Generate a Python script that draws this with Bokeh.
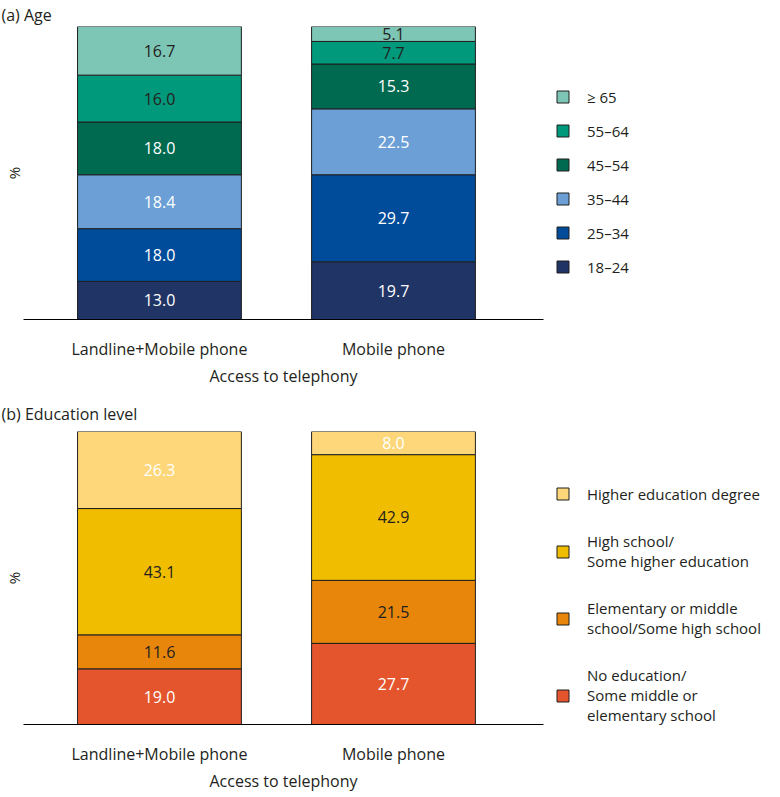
from bokeh.plotting import figure
from bokeh.models import Range1d, FixedTicker, Legend, LegendItem, ColumnDataSource
from bokeh.layouts import column
from bokeh.embed import file_html
from bokeh.resources import INLINE
from bokeh.core.properties import value

# ---------------- data ----------------
access = ["Landline+Mobile phone", "Mobile phone"]

age_groups = ["18–24", "25–34", "35–44", "45–54", "55–64", "≥ 65"]
age_landline = [13.0, 18.0, 18.4, 18.0, 16.0, 16.7]
age_mobile = [19.7, 29.7, 22.5, 15.3, 7.7, 5.1]

edu_groups = [
    "No education/\nSome middle or\nelementary school",
    "Elementary or middle\nschool/Some high school",
    "High school/\nSome higher education",
    "Higher education degree",
]
edu_landline = [19.0, 11.6, 43.1, 26.3]
edu_mobile = [27.7, 21.5, 42.9, 8.0]

# ---------------- styles ----------------
FONT = "Open Sans"
TXT = "#231f20"
age_colors = ["#213466", "#004c9a", "#6b9fd5", "#006a50", "#00997b", "#7dc5b5"]
age_text = ["white", "white", "white", "white", TXT, TXT]
edu_colors = ["#e4552e", "#e8860c", "#f1bd00", "#fdd779"]
edu_text = ["white", TXT, TXT, "white"]

FRAME_H = 293


def make_panel(title, groups, landline, mobile, colors, text_colors,
               legend_loc, legend_spacing, title_standoff):
    p = figure(frame_width=520, frame_height=FRAME_H,
               x_range=Range1d(-0.581, 1.641), y_range=Range1d(0, 100),
               output_backend="svg", toolbar_location=None,
               min_border_left=0, min_border_right=225,
               min_border_top=0, min_border_bottom=2)
    p.title.text = title
    p.title.text_font = FONT
    p.title.text_font_size = "16px"
    p.title.text_font_style = "normal"
    p.title.text_color = TXT
    p.title.offset = -22
    p.title.standoff = title_standoff

    p.xgrid.visible = False
    p.ygrid.visible = False
    p.outline_line_color = None
    p.background_fill_color = "white"

    # y axis: only the "%" label
    p.yaxis.ticker = FixedTicker(ticks=[])
    p.yaxis.axis_label = "%"
    p.yaxis.axis_line_color = None
    p.yaxis.major_tick_line_color = None
    p.yaxis.minor_tick_line_color = None
    p.yaxis.axis_label_text_font = FONT
    p.yaxis.axis_label_text_font_size = "15px"
    p.yaxis.axis_label_text_font_style = "normal"
    p.yaxis.axis_label_text_color = TXT
    p.yaxis.axis_label_standoff = 0

    # x axis
    p.xaxis.ticker = FixedTicker(ticks=[0, 1])
    p.xaxis.major_label_overrides = {0: access[0], 1: access[1]}
    p.xaxis.major_tick_line_color = None
    p.xaxis.minor_tick_line_color = None
    p.xaxis.axis_line_color = "black"
    p.xaxis.axis_line_width = 1
    p.xaxis.major_label_standoff = 12
    p.xaxis.major_label_text_font = FONT
    p.xaxis.major_label_text_font_size = "16px"
    p.xaxis.major_label_text_color = TXT
    p.xaxis.axis_label = "Access to telephony"
    p.xaxis.axis_label_standoff = 2
    p.xaxis.axis_label_text_font = FONT
    p.xaxis.axis_label_text_font_size = "16px"
    p.xaxis.axis_label_text_font_style = "normal"
    p.xaxis.axis_label_text_color = TXT

    items = []
    bl = 0.0
    bm = 0.0
    lx, ly, lt, lc = [], [], [], []
    for g, vl, vm, c, tc in zip(groups, landline, mobile, colors, text_colors):
        src = ColumnDataSource(dict(x=[0, 1], bottom=[bl, bm], top=[bl + vl, bm + vm]))
        r = p.vbar(x="x", width=0.70, bottom="bottom", top="top", source=src,
                   fill_color=c, line_color="#1e1e1e", line_width=1)
        items.append(LegendItem(label=g, renderers=[r]))
        lx += [0, 1]
        ly += [bl + vl / 2, bm + vm / 2]
        lt += ["%.1f" % vl, "%.1f" % vm]
        lc += [tc, tc]
        bl += vl
        bm += vm

    tsrc = ColumnDataSource(dict(x=lx, y=ly, t=lt, c=lc))
    p.text(x="x", y="y", text="t", text_color="c", source=tsrc,
           text_align="center", text_baseline="middle",
           text_font=value(FONT), text_font_size="16px")

    legend = Legend(items=list(reversed(items)), location=legend_loc,
                    orientation="vertical")
    legend.border_line_color = None
    legend.background_fill_alpha = 0
    legend.padding = 0
    legend.margin = 0
    legend.spacing = legend_spacing
    legend.glyph_width = 15
    legend.glyph_height = 15
    legend.label_standoff = 17
    legend.label_height = 21
    legend.label_text_font = FONT
    legend.label_text_font_size = "15px"
    legend.label_text_color = TXT
    legend.label_text_line_height = 1.45
    p.add_layout(legend, "right")
    return p


p1 = make_panel("(a) Age", age_groups, age_landline, age_mobile,
                age_colors, age_text, (12, 42), 13, 2)
p2 = make_panel("(b) Education level", edu_groups, edu_landline, edu_mobile,
                edu_colors, edu_text, (12, -1), 27, 14)

layout = column(p1, p2, spacing=4)
open("out.html", "w").write(file_html(layout, INLINE))
